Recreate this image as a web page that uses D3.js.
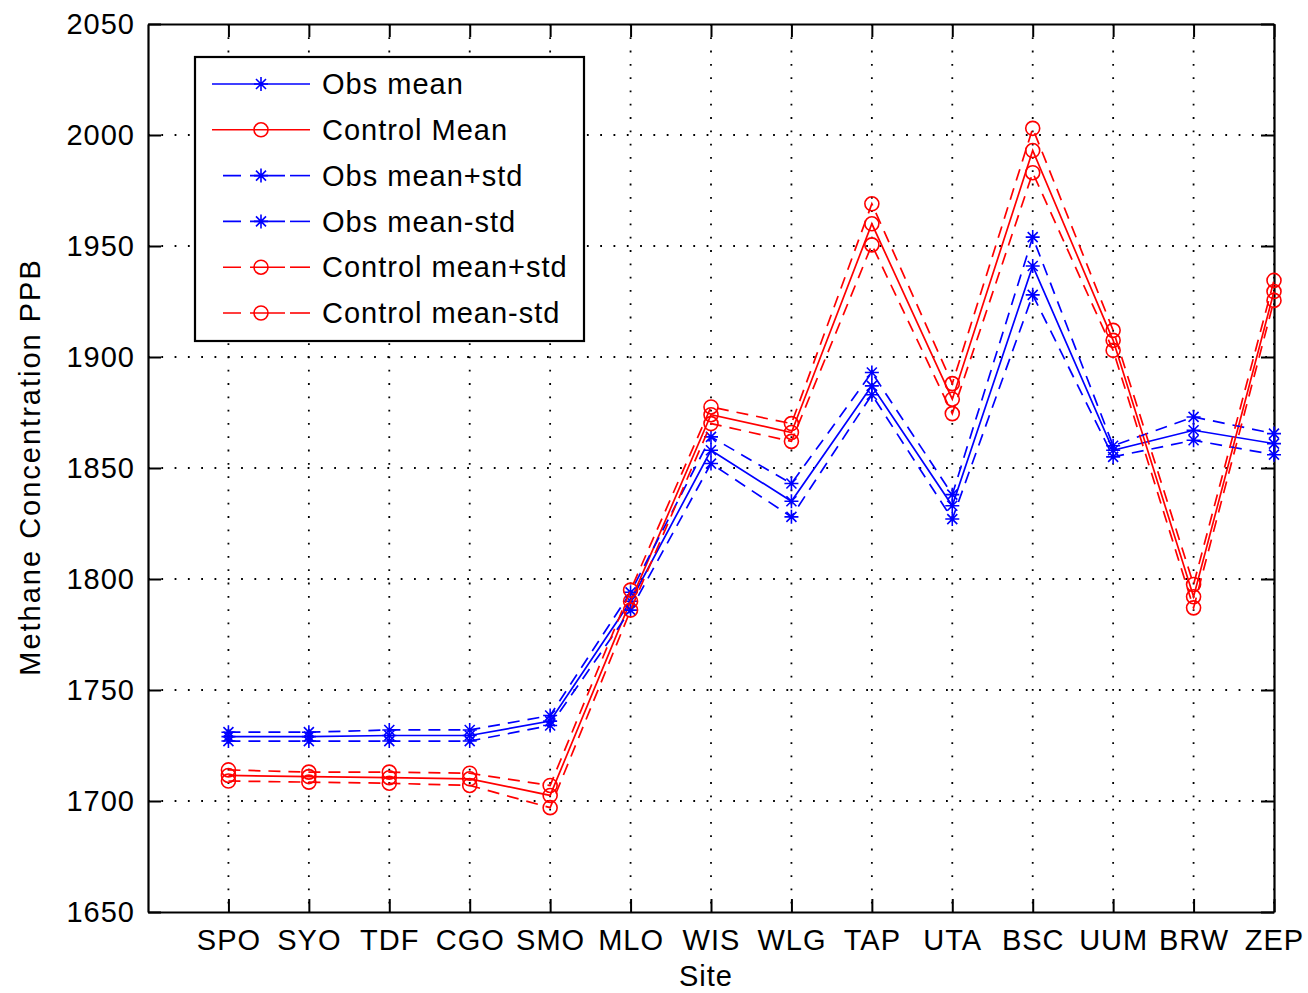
<!DOCTYPE html>
<html>
<head>
<meta charset="utf-8">
<script src="https://cdn.jsdelivr.net/npm/d3@7"></script>
<style>
  body { margin: 0; background: #fff; }
  text { font-family: "Liberation Sans", Arial, sans-serif; font-size: 29px; letter-spacing: 1px; fill: #000; }
</style>
</head>
<body>
<div id="chart"></div>
<script>
// site names and values (ppb)
var sites = ["SPO", "SYO", "TDF", "CGO", "SMO", "MLO", "WIS", "WLG", "TAP", "UTA", "BSC", "UUM", "BRW", "ZEP"];
var obsMean   = [1729, 1729, 1729.5, 1729.5, 1736, 1790, 1858, 1835, 1887, 1833, 1941, 1858, 1867, 1861];
var obsPlus   = [1731, 1731, 1732, 1732, 1738.5, 1794, 1864, 1843, 1893, 1838, 1954, 1860, 1873, 1865.5];
var obsMinus  = [1727, 1727, 1727, 1727, 1734, 1786, 1852, 1828, 1883, 1827, 1928, 1855, 1862.5, 1856];
var ctrlMean  = [1711.5, 1711, 1710.5, 1710, 1702.5, 1790, 1874, 1866, 1960, 1881, 1993, 1907.5, 1792, 1929.5];
var ctrlPlus  = [1714, 1713, 1713, 1712.5, 1707, 1795, 1877.5, 1870, 1969, 1888, 2003, 1912, 1797.5, 1934.5];
var ctrlMinus = [1709, 1708.5, 1708, 1707, 1697, 1786, 1870, 1862, 1950.5, 1874.5, 1983, 1903, 1787, 1925.5];
var yTicks = [1650, 1700, 1750, 1800, 1850, 1900, 1950, 2000, 2050];

// set the dimensions and margins of the graph
var margin = {top: 24, right: 34, bottom: 81, left: 148},
    width = 1308 - margin.left - margin.right,
    height = 993 - margin.top - margin.bottom;

var svg = d3.select("#chart")
  .append("svg")
    .attr("width", 1308)
    .attr("height", 993)
  .append("g")
    .attr("transform", "translate(" + margin.left + "," + margin.top + ")");

var x = d3.scaleLinear().domain([0, sites.length]).range([0, width]);
var y = d3.scaleLinear().domain([1650, 2050]).range([height, 0]);

// dotted grid
var grid = svg.append("g");
sites.forEach(function(s, i) {
  grid.append("line")
    .attr("x1", x(i + 1)).attr("x2", x(i + 1))
    .attr("y1", 0).attr("y2", height)
    .attr("stroke", "#000").attr("stroke-width", 1.8)
    .attr("stroke-dasharray", "1.8,11.5");
});
yTicks.slice(1, -1).forEach(function(t) {
  grid.append("line")
    .attr("x1", 0).attr("x2", width)
    .attr("y1", y(t)).attr("y2", y(t))
    .attr("stroke", "#000").attr("stroke-width", 1.8)
    .attr("stroke-dasharray", "1.8,11.5");
});

// axes (box with inward ticks)
var xAxis = svg.append("g")
  .attr("transform", "translate(0," + height + ")")
  .call(d3.axisBottom(x).tickValues(d3.range(1, sites.length + 1))
    .tickFormat(function(d) { return sites[d - 1]; })
    .tickSizeInner(-13).tickSizeOuter(0).tickPadding(26));
var xAxisTop = svg.append("g")
  .call(d3.axisTop(x).tickValues(d3.range(1, sites.length + 1))
    .tickFormat("").tickSizeInner(-13).tickSizeOuter(0));
var yAxis = svg.append("g")
  .call(d3.axisLeft(y).tickValues(yTicks).tickFormat(d3.format("d"))
    .tickSizeInner(-13).tickSizeOuter(0).tickPadding(13));
var yAxisRight = svg.append("g")
  .attr("transform", "translate(" + width + ",0)")
  .call(d3.axisRight(y).tickValues(yTicks).tickFormat("")
    .tickSizeInner(-13).tickSizeOuter(0));

svg.selectAll(".domain").attr("stroke", "#000").attr("stroke-width", 2.2);
svg.selectAll(".tick line").attr("stroke", "#000").attr("stroke-width", 2);
svg.selectAll(".tick text").attr("font-size", 29).attr("font-family", "Liberation Sans, Arial, sans-serif");
xAxis.selectAll(".tick text").attr("dy", "0.4em");

// series, in plotting order
var series = [
  {name: "Obs mean",         values: obsMean,   color: "#0000ff", marker: "star",   dash: null},
  {name: "Control Mean",     values: ctrlMean,  color: "#ff0000", marker: "circle", dash: null},
  {name: "Obs mean+std",     values: obsPlus,   color: "#0000ff", marker: "star",   dash: "12,8"},
  {name: "Obs mean-std",     values: obsMinus,  color: "#0000ff", marker: "star",   dash: "12,8"},
  {name: "Control mean+std", values: ctrlPlus,  color: "#ff0000", marker: "circle", dash: "12,8"},
  {name: "Control mean-std", values: ctrlMinus, color: "#ff0000", marker: "circle", dash: "12,8"}
];

var starPath = "M-7,0H7M0,-7V7M-5,-5L5,5M-5,5L5,-5";

function drawMarker(g, type, color) {
  if (type == "star") {
    g.append("path").attr("d", starPath)
      .attr("stroke", color).attr("stroke-width", 1.6).attr("fill", "none");
  } else {
    g.append("circle").attr("r", 7)
      .attr("stroke", color).attr("stroke-width", 1.6).attr("fill", "none");
  }
}

var line = d3.line()
  .x(function(d, i) { return x(i + 1); })
  .y(function(d) { return y(d); });

series.forEach(function(s) {
  var g = svg.append("g");
  g.append("path")
    .datum(s.values)
    .attr("d", line)
    .attr("fill", "none")
    .attr("stroke", s.color)
    .attr("stroke-width", 1.7)
    .attr("stroke-dasharray", s.dash);
  s.values.forEach(function(v, i) {
    var m = g.append("g").attr("transform", "translate(" + x(i + 1) + "," + y(v) + ")");
    drawMarker(m, s.marker, s.color);
  });
});

// legend
var legend = svg.append("g").attr("transform", "translate(" + (195 - margin.left) + "," + (57 - margin.top) + ")");
legend.append("rect")
  .attr("width", 389).attr("height", 284)
  .attr("fill", "#fff").attr("stroke", "#000").attr("stroke-width", 2.2);
series.forEach(function(s, i) {
  var row = legend.append("g").attr("transform", "translate(0," + (27 + i * 45.8) + ")");
  if (s.dash) {
    row.append("line").attr("x1", 28).attr("x2", 90).attr("stroke", s.color).attr("stroke-width", 1.6)
      .attr("stroke-dasharray", "18,9,40");
    row.append("line").attr("x1", 95).attr("x2", 115).attr("stroke", s.color).attr("stroke-width", 1.6);
  } else {
    row.append("line").attr("x1", 17).attr("x2", 115).attr("stroke", s.color).attr("stroke-width", 1.6);
  }
  var m = row.append("g").attr("transform", "translate(66,0)");
  drawMarker(m, s.marker, s.color);
  row.append("text").attr("x", 127).attr("dy", "0.35em").text(s.name);
});

// axis labels
svg.append("text")
  .attr("text-anchor", "middle")
  .style("letter-spacing", "2px")
  .attr("transform", "translate(" + (40 - margin.left) + "," + (467 - margin.top) + ") rotate(-90)")
  .text("Methane Concentration PPB");
svg.append("text")
  .attr("text-anchor", "middle")
  .attr("x", 706 - margin.left)
  .attr("y", 986 - margin.top)
  .text("Site");
</script>
</body>
</html>
